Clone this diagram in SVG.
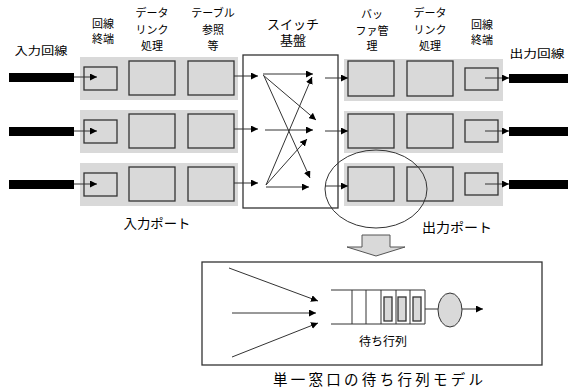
<svg xmlns="http://www.w3.org/2000/svg" width="568" height="392" viewBox="0 0 568 392">
<style>
.band{fill:#d9d9d9;stroke:none}
.box{fill:#d9d9d9;stroke:#333;stroke-width:1.3}
.bar{fill:#000}
.ln{stroke:#333;stroke-width:1;fill:none}
.lbl{font-family:"Liberation Sans","Noto Sans CJK JP",sans-serif;font-size:11px;fill:#000;text-anchor:middle}
.lbl2{font-family:"Liberation Sans","Noto Sans CJK JP",sans-serif;font-size:13px;fill:#000;text-anchor:middle}
</style>
<defs>
<marker id="ah" viewBox="0 0 10 10" refX="10" refY="5" markerWidth="7" markerHeight="7" markerUnits="userSpaceOnUse" orient="auto">
<path d="M0,0 L10,5 L0,10 z" fill="#000"/>
</marker>
</defs>
<rect width="568" height="392" fill="#fff"/>

<!-- top labels -->
<g id="labels">
<text class="lbl" x="41" y="55" textLength="53" lengthAdjust="spacingAndGlyphs">入力回線</text>
<text class="lbl" x="103" y="28">回線</text>
<text class="lbl" x="103" y="43">終端</text>
<text class="lbl" x="152" y="17">データ</text>
<text class="lbl" x="152" y="34">リンク</text>
<text class="lbl" x="152" y="50">処理</text>
<text class="lbl" x="213" y="17">テーブル</text>
<text class="lbl" x="213" y="34">参照</text>
<text class="lbl" x="213" y="50">等</text>
<text class="lbl2" x="293" y="29">スイッチ</text>
<text class="lbl2" x="293" y="45">基盤</text>
<text class="lbl" x="372" y="18">バッ</text>
<text class="lbl" x="372" y="35">ファ管</text>
<text class="lbl" x="372" y="50">理</text>
<text class="lbl" x="430" y="17">データ</text>
<text class="lbl" x="430" y="34">リンク</text>
<text class="lbl" x="430" y="50">処理</text>
<text class="lbl" x="482" y="29">回線</text>
<text class="lbl" x="482" y="44">終端</text>
<text class="lbl" x="537" y="58" textLength="55" lengthAdjust="spacingAndGlyphs">出力回線</text>
<text class="lbl2" x="157" y="228" textLength="67" lengthAdjust="spacingAndGlyphs">入力ポート</text>
<text class="lbl2" x="457" y="232" textLength="70" lengthAdjust="spacingAndGlyphs">出力ポート</text>
</g>

<!-- input ports -->
<g id="in1">
<rect class="band" x="80" y="57" width="158" height="43"/>
<rect class="bar" x="9" y="73" width="65" height="9"/>
<rect class="box" x="84" y="67" width="33" height="23"/>
<rect class="box" x="129" y="61" width="46" height="34"/>
<rect class="box" x="188" y="61" width="46" height="34"/>
</g>
<g id="in2">
<rect class="band" x="80" y="110" width="158" height="43"/>
<rect class="bar" x="9" y="127" width="65" height="9"/>
<rect class="box" x="84" y="120" width="33" height="23"/>
<rect class="box" x="129" y="114" width="46" height="34"/>
<rect class="box" x="188" y="114" width="46" height="34"/>
</g>
<g id="in3">
<rect class="band" x="80" y="163" width="158" height="43"/>
<rect class="bar" x="9" y="180" width="65" height="9"/>
<rect class="box" x="84" y="173" width="33" height="23"/>
<rect class="box" x="129" y="167" width="46" height="34"/>
<rect class="box" x="188" y="167" width="46" height="34"/>
</g>

<!-- switch -->
<g id="switch">
<rect x="243" y="55" width="95" height="153" fill="#fff" stroke="#333" stroke-width="1.3"/>
</g>

<!-- output ports -->
<g id="out1">
<rect class="band" x="344" y="59" width="159" height="42"/>
<rect class="box" x="348" y="61" width="46" height="35"/>
<rect class="box" x="407" y="61" width="46" height="35"/>
<rect class="box" x="465" y="68" width="33" height="22"/>
<rect class="bar" x="509" y="74" width="59" height="9"/>
</g>
<g id="out2">
<rect class="band" x="344" y="111" width="159" height="42"/>
<rect class="box" x="348" y="114" width="46" height="34"/>
<rect class="box" x="407" y="114" width="46" height="34"/>
<rect class="box" x="465" y="120" width="33" height="22"/>
<rect class="bar" x="509" y="127" width="59" height="9"/>
</g>
<g id="out3">
<rect class="band" x="344" y="163" width="159" height="43"/>
<rect class="box" x="348" y="167" width="46" height="34"/>
<rect class="box" x="407" y="167" width="46" height="34"/>
<rect class="box" x="465" y="173" width="33" height="22"/>
<rect class="bar" x="509" y="180" width="59" height="9"/>
</g>

<!-- connectors -->
<g id="connectors">
<line class="ln" x1="74" y1="77" x2="97" y2="77" marker-end="url(#ah)"/>
<line class="ln" x1="74" y1="131" x2="97" y2="131" marker-end="url(#ah)"/>
<line class="ln" x1="74" y1="184" x2="97" y2="184" marker-end="url(#ah)"/>
<line class="ln" x1="234" y1="76" x2="258" y2="76" marker-end="url(#ah)"/>
<line class="ln" x1="234" y1="129" x2="258" y2="129" marker-end="url(#ah)"/>
<line class="ln" x1="234" y1="183" x2="258" y2="183" marker-end="url(#ah)"/>
<!-- switch internals -->
<line class="ln" x1="263" y1="74" x2="313" y2="74" marker-end="url(#ah)" stroke-width="1.3"/>
<line class="ln" x1="263" y1="75" x2="316" y2="120" marker-end="url(#ah)"/>
<line class="ln" x1="264" y1="76" x2="310" y2="178" marker-end="url(#ah)"/>
<line class="ln" x1="265" y1="130" x2="313" y2="130" marker-end="url(#ah)" stroke-width="1.3"/>
<line class="ln" x1="266" y1="185" x2="312" y2="77" marker-end="url(#ah)"/>
<line class="ln" x1="266" y1="185" x2="307" y2="139" marker-end="url(#ah)"/>
<line class="ln" x1="266" y1="187" x2="309" y2="187" marker-end="url(#ah)"/>
<!-- to output ports -->
<line class="ln" x1="325" y1="78" x2="348" y2="78" marker-end="url(#ah)"/>
<line class="ln" x1="325" y1="131" x2="348" y2="131" marker-end="url(#ah)"/>
<line class="ln" x1="325" y1="186" x2="348" y2="186" marker-end="url(#ah)"/>
<line class="ln" x1="485" y1="78" x2="509" y2="78" marker-end="url(#ah)"/>
<line class="ln" x1="485" y1="131" x2="509" y2="131" marker-end="url(#ah)"/>
<line class="ln" x1="485" y1="184" x2="509" y2="184" marker-end="url(#ah)"/>
</g>

<!-- ellipse highlight -->
<ellipse cx="376" cy="189" rx="51" ry="39" fill="none" stroke="#333" stroke-width="1"/>

<!-- block arrow -->
<path d="M362,235 L390,235 L390,247 L405,247 L376,256 L347,247 L362,247 Z" fill="#d9d9d9" stroke="#555" stroke-width="1"/>

<!-- queue model -->
<g id="queue-model">
<rect x="202" y="262" width="340" height="103" fill="#fff" stroke="#333" stroke-width="1.3"/>
<line class="ln" x1="229" y1="268" x2="318" y2="301" marker-end="url(#ah)"/>
<line class="ln" x1="232" y1="313" x2="316" y2="313" marker-end="url(#ah)"/>
<line class="ln" x1="232" y1="357" x2="318" y2="323" marker-end="url(#ah)"/>
<path class="ln" d="M331,290 L425,290 L425,324 L331,324 M352,290 V324 M366,290 V324 M381,290 V324 M396,290 V324 M410,290 V324"/>
<rect class="box" x="384" y="297" width="8" height="24" stroke-width="1"/>
<rect class="box" x="398" y="297" width="8" height="24" stroke-width="1"/>
<rect class="box" x="413" y="297" width="8" height="24" stroke-width="1"/>
<line class="ln" x1="425" y1="309" x2="438" y2="309"/>
<ellipse cx="450" cy="310" rx="12" ry="17" fill="#d9d9d9" stroke="#333" stroke-width="1"/>
<line class="ln" x1="462" y1="309" x2="483" y2="309" marker-end="url(#ah)"/>
<text class="lbl" x="383" y="346" style="font-size:12px">待ち行列</text>
</g>
<text class="lbl2" x="378" y="385" textLength="210" lengthAdjust="spacing" style="font-size:14.5px">単一窓口の待ち行列モデル</text>
</svg>
